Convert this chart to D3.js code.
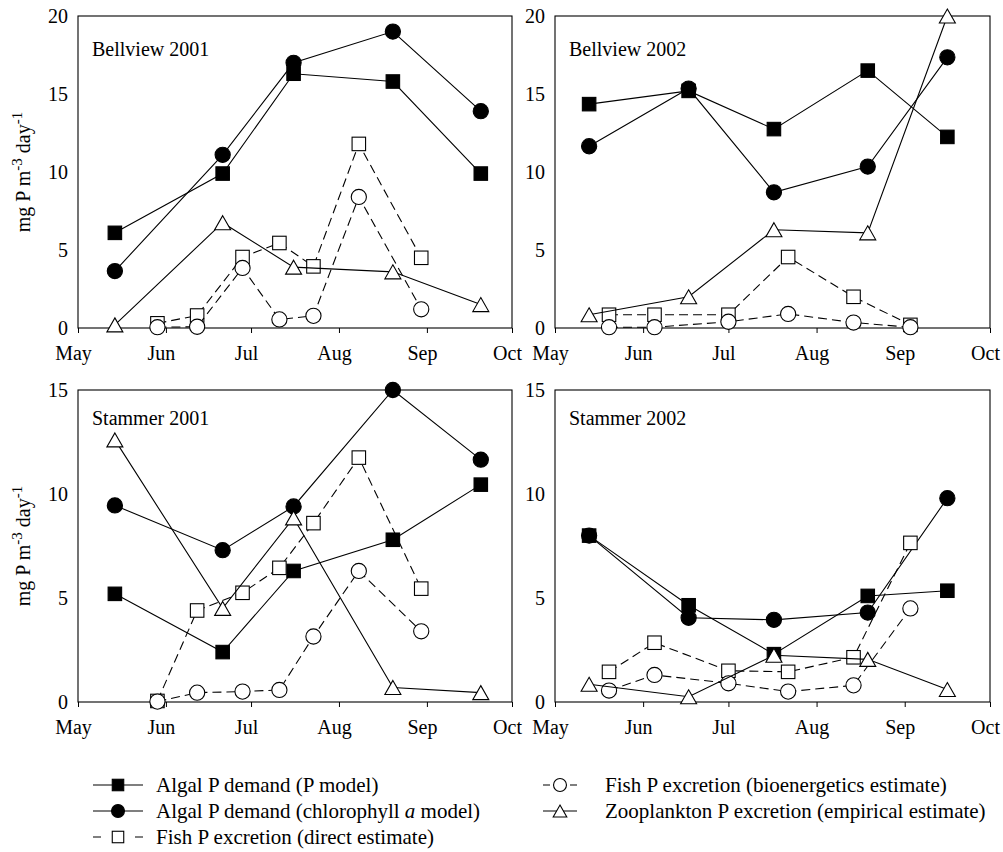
<!DOCTYPE html>
<html><head><meta charset="utf-8">
<script src="https://cdn.jsdelivr.net/npm/d3@7"></script>
<style>
body{margin:0;background:#fff;}
svg{display:block;font-family:"Liberation Serif","Times New Roman",serif;}
</style>
</head><body>
<svg id="c" width="1003" height="852"></svg>
<script>
// ---------------- DATA ----------------
const monthLabels = ["May","Jun","Jul","Aug","Sep","Oct"];
const yTicksTop = [0, 5, 10, 15, 20];
const yTicksBottom = [0, 5, 10, 15];

const algalDates2001 = ["2001-05-14","2001-06-21","2001-07-16","2001-08-20","2001-09-20"];
const fishDates2001  = ["2001-05-29","2001-06-12","2001-06-28","2001-07-11","2001-07-23","2001-08-08","2001-08-30"];
const algalDates2002 = ["2002-05-13","2002-06-17","2002-07-17","2002-08-19","2002-09-16"];
const fishDates2002  = ["2002-05-20","2002-06-05","2002-07-01","2002-07-22","2002-08-14","2002-09-03"];

const bellview2001PModel     = [6.1, 9.9, 16.3, 15.8, 9.9];
const bellview2001Chl        = [3.65, 11.1, 17.0, 19.0, 13.9];
const bellview2001FishDirect = [0.3, 0.8, 4.55, 5.45, 3.95, 11.8, 4.5];
const bellview2001FishBio    = [0.05, 0.08, 3.85, 0.55, 0.78, 8.4, 1.2];
const bellview2001Zoo        = [0.2, 6.75, 3.9, 3.6, 1.5];

const bellview2002PModel     = [14.35, 15.2, 12.75, 16.5, 12.25];
const bellview2002Chl        = [11.65, 15.35, 8.7, 10.35, 17.35];
const bellview2002FishDirect = [0.85, 0.85, 0.85, 4.55, 2.0, 0.2];
const bellview2002FishBio    = [0.05, 0.05, 0.4, 0.9, 0.35, 0.05];
const bellview2002Zoo        = [0.85, 2.0, 6.3, 6.1, 20.0];

const stammer2001PModel      = [5.2, 2.4, 6.3, 7.8, 10.45];
const stammer2001Chl         = [9.45, 7.3, 9.4, 15.0, 11.65];
const stammer2001FishDirect  = [0.05, 4.4, 5.25, 6.45, 8.6, 11.75, 5.45];
const stammer2001FishBio     = [0.02, 0.45, 0.5, 0.58, 3.15, 6.3, 3.4];
const stammer2001Zoo         = [12.6, 4.5, 8.85, 0.7, 0.45];

const stammer2002PModel      = [8.0, 4.65, 2.3, 5.1, 5.35];
const stammer2002Chl         = [8.0, 4.05, 3.95, 4.3, 9.8];
const stammer2002FishDirect  = [1.45, 2.85, 1.5, 1.45, 2.15, 7.65];
const stammer2002FishBio     = [0.55, 1.3, 0.9, 0.5, 0.8, 4.5];
const stammer2002Zoo         = [0.85, 0.25, 2.25, 2.05, 0.6];

const seriesNames = [
  "Algal P demand (P model)",
  "Algal P demand (chlorophyll a model)",
  "Fish P excretion (direct estimate)",
  "Fish P excretion (bioenergetics estimate)",
  "Zooplankton P excretion (empirical estimate)"
];

// ---------------- STYLE / LAYOUT ----------------
const styles = [
  {marker:"square",   fill:"#000", dash:null},
  {marker:"circle",   fill:"#000", dash:null},
  {marker:"square",   fill:"#fff", dash:"9,5"},
  {marker:"circle",   fill:"#fff", dash:"9,5"},
  {marker:"triangle", fill:"#fff", dash:null}
];

const panels = [
  {label:"Bellview 2001", year:2001, yMax:20, yTicks:yTicksTop, x0:78, x1:512, y0:16, y1:328, title:true, labDy:40,
   series:[[algalDates2001,bellview2001PModel],[algalDates2001,bellview2001Chl],[fishDates2001,bellview2001FishDirect],[fishDates2001,bellview2001FishBio],[algalDates2001,bellview2001Zoo]]},
  {label:"Bellview 2002", year:2002, yMax:20, yTicks:yTicksTop, x0:555, x1:990, y0:16, y1:328, title:false, labDy:40,
   series:[[algalDates2002,bellview2002PModel],[algalDates2002,bellview2002Chl],[fishDates2002,bellview2002FishDirect],[fishDates2002,bellview2002FishBio],[algalDates2002,bellview2002Zoo]]},
  {label:"Stammer 2001", year:2001, yMax:15, yTicks:yTicksBottom, x0:78, x1:512, y0:390, y1:702, title:true, labDy:35,
   series:[[algalDates2001,stammer2001PModel],[algalDates2001,stammer2001Chl],[fishDates2001,stammer2001FishDirect],[fishDates2001,stammer2001FishBio],[algalDates2001,stammer2001Zoo]]},
  {label:"Stammer 2002", year:2002, yMax:15, yTicks:yTicksBottom, x0:555, x1:990, y0:390, y1:702, title:false, labDy:35,
   series:[[algalDates2002,stammer2002PModel],[algalDates2002,stammer2002Chl],[fishDates2002,stammer2002FishDirect],[fishDates2002,stammer2002FishBio],[algalDates2002,stammer2002Zoo]]}
];

const parse = d3.timeParse("%Y-%m-%d");
const svg = d3.select("#c");
const FS = 20;

function drawMarker(g, type, cx, cy, fill, scale) {
  const s = scale || 1;
  if (type === "square") {
    const a = 13.5 * s;
    g.append("rect").attr("x", cx - a/2).attr("y", cy - a/2).attr("width", a).attr("height", a)
      .attr("fill", fill).attr("stroke", "#000").attr("stroke-width", 1.1);
  } else if (type === "circle") {
    g.append("circle").attr("cx", cx).attr("cy", cy).attr("r", 7.6 * s)
      .attr("fill", fill).attr("stroke", "#000").attr("stroke-width", 1.1);
  } else {
    const w = 16 * s, h = 14 * s;
    g.append("path").attr("d", `M${cx},${cy - h/2}L${cx + w/2},${cy + h/2}L${cx - w/2},${cy + h/2}Z`)
      .attr("fill", fill).attr("stroke", "#000").attr("stroke-width", 1.1).attr("stroke-linejoin", "miter");
  }
}

panels.forEach(p => {
  const g = svg.append("g");
  const x = d3.scaleTime()
    .domain([new Date(p.year, 4, 1), new Date(p.year, 9, 1)])
    .range([p.x0, p.x1]);
  const y = d3.scaleLinear().domain([0, p.yMax]).range([p.y1, p.y0]);

  const monthDates = monthLabels.map((m, i) => new Date(p.year, 4 + i, 1));

  // x axis
  const xa = g.append("g").attr("transform", `translate(0,${p.y1})`)
    .call(d3.axisBottom(x).tickValues(monthDates).tickFormat((d, i) => monthLabels[i]).tickSize(5).tickPadding(13));
  xa.select(".domain").remove();
  xa.selectAll("line").attr("stroke", "#000");
  xa.selectAll("text").attr("font-size", FS).attr("font-family", "Liberation Serif").attr("fill", "#000").attr("dx", -5);

  // y axis
  const ya = g.append("g").attr("transform", `translate(${p.x0},0)`)
    .call(d3.axisLeft(y).tickValues(p.yTicks).tickSize(0).tickPadding(10));
  ya.select(".domain").remove();
  ya.selectAll("text").attr("font-size", FS).attr("font-family", "Liberation Serif").attr("fill", "#000");

  // frame
  g.append("rect").attr("x", p.x0).attr("y", p.y0).attr("width", p.x1 - p.x0).attr("height", p.y1 - p.y0)
    .attr("fill", "none").attr("stroke", "#000").attr("stroke-width", 1.1);

  // panel label
  g.append("text").attr("x", p.x0 + 14).attr("y", p.y0 + p.labDy).attr("font-size", FS).text(p.label);

  // y title
  if (p.title) {
    const t = g.append("text")
      .attr("transform", `translate(30,${(p.y0 + p.y1) / 2}) rotate(-90)`)
      .attr("text-anchor", "middle").attr("font-size", FS);
    t.append("tspan").text("mg P m");
    t.append("tspan").attr("dy", -8).attr("font-size", 15).text("-3");
    t.append("tspan").attr("dy", 8).text(" day");
    t.append("tspan").attr("dy", -8).attr("font-size", 15).text("-1");
  }

  // series
  const line = d3.line().x(d => x(d.date)).y(d => y(d.v));
  p.series.forEach((s, si) => {
    const st = styles[si];
    const pts = s[0].map((ds, i) => ({date: parse(ds), v: s[1][i]}));
    g.append("path").datum(pts).attr("d", line).attr("fill", "none").attr("stroke", "#000")
      .attr("stroke-width", 1.1).attr("stroke-dasharray", st.dash);
    pts.forEach(d => drawMarker(g, st.marker, x(d.date), y(d.v), st.fill));
  });
});

// ---------------- LEGEND ----------------
const legendPos = [
  {lx0:93, lx1:143, mx:118, tx:156, y:785, dash:null},
  {lx0:93, lx1:143, mx:118, tx:156, y:811, dash:null},
  {lx0:93, lx1:143, mx:118, tx:156, y:837, dash:"8,34,8"},
  {lx0:543, lx1:577, mx:560, tx:605, y:785, dash:"7,20,7"},
  {lx0:543, lx1:577, mx:560, tx:605, y:811, dash:null}
];
const lg = svg.append("g");
seriesNames.forEach((name, i) => {
  const lp = legendPos[i], st = styles[i];
  lg.append("line").attr("x1", lp.lx0).attr("x2", lp.lx1).attr("y1", lp.y).attr("y2", lp.y)
    .attr("stroke", "#000").attr("stroke-width", 1.1).attr("stroke-dasharray", lp.dash);
  drawMarker(lg, st.marker, lp.mx, lp.y, st.fill, 0.85);
  const t = lg.append("text").attr("x", lp.tx).attr("y", lp.y).attr("dy", "0.35em").attr("font-size", 21);
  if (name.includes("chlorophyll a")) {
    const parts = name.split("chlorophyll a");
    t.append("tspan").text(parts[0] + "chlorophyll ");
    t.append("tspan").attr("font-style", "italic").text("a");
    t.append("tspan").text(parts[1]);
  } else {
    t.text(name);
  }
});
</script>
</body></html>
